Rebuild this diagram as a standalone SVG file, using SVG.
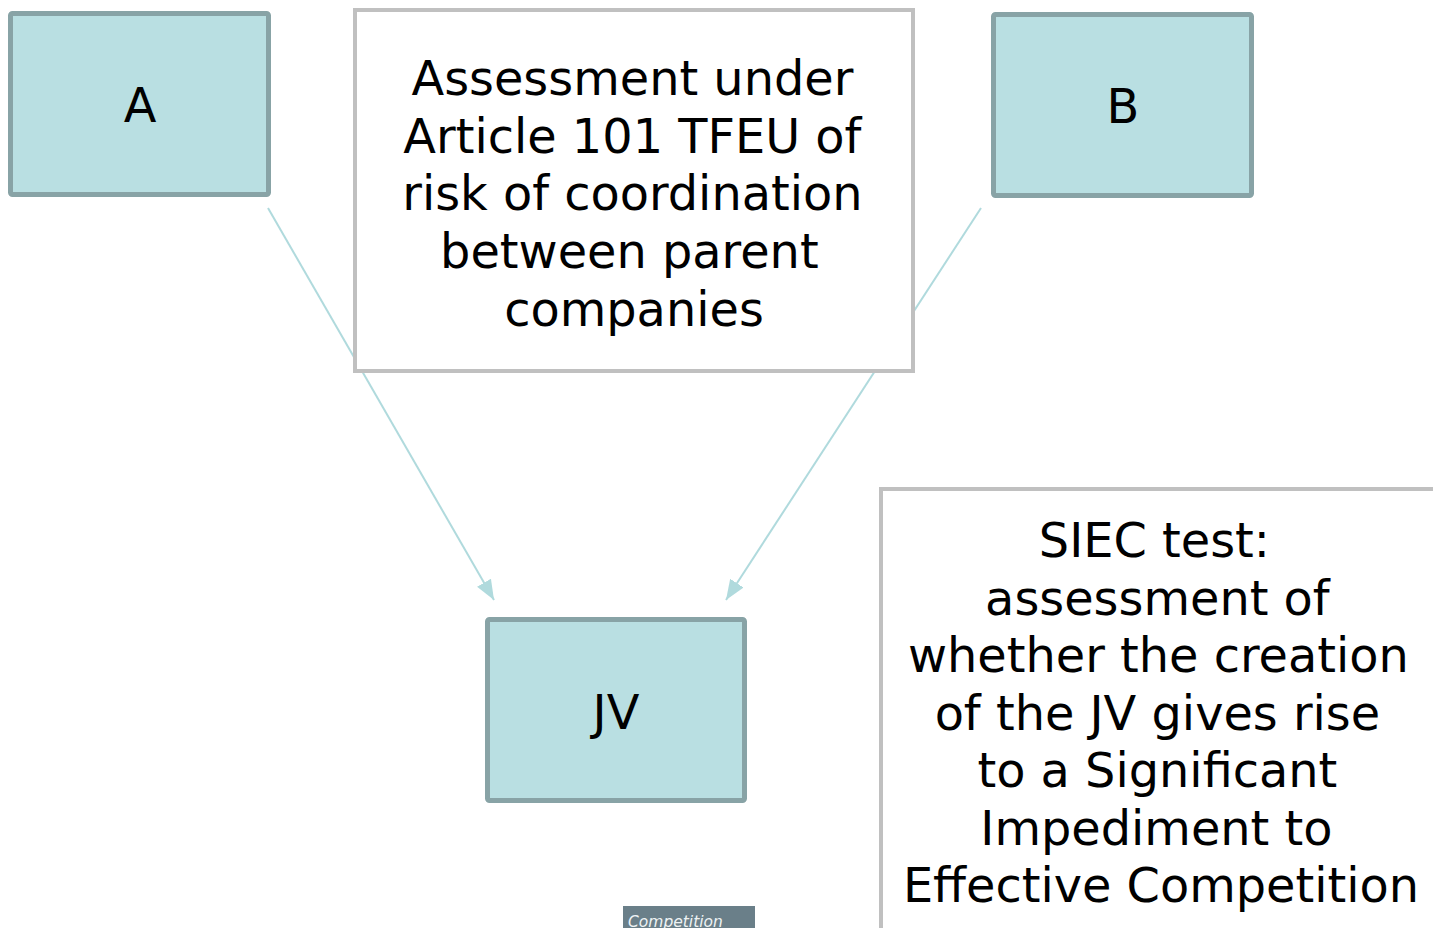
<svg xmlns="http://www.w3.org/2000/svg" width="1433" height="928" viewBox="0 0 1433 928">
  <style>
    .party { fill: #b9dfe2; stroke: #88a3a6; stroke-width: 5; }
    .note { fill: #ffffff; stroke: #c0c0c0; stroke-width: 4; }
    .lbl { font-family: "DejaVu Sans", Verdana, sans-serif; font-size: 47.8px; fill: #000000; text-anchor: middle; }
    .link { stroke: #b0dadd; stroke-width: 2; fill: none; }
    .tag { font-family: "DejaVu Sans", Verdana, sans-serif; font-size: 15.5px; font-style: italic; fill: #eef3f4; }
  </style>
  <defs>
    <marker id="head" viewBox="0 0 20 20" refX="20" refY="10" markerWidth="20" markerHeight="20" markerUnits="userSpaceOnUse" orient="auto">
      <path d="M0,2 L20,10 L0,18 z" fill="#b0dadd"/>
    </marker>
  </defs>

  <!-- connectors from parents to the joint venture -->
  <g id="connectors">
    <line class="link" x1="268" y1="208" x2="494" y2="600" marker-end="url(#head)"/>
    <line class="link" x1="981" y1="208" x2="726" y2="600" marker-end="url(#head)"/>
  </g>

  <g id="node-A">
    <rect class="party" x="10.5" y="13.5" width="258" height="181" rx="2"/>
    <text class="lbl" x="140" y="122">A</text>
  </g>

  <g id="node-B">
    <rect class="party" x="993.5" y="14.5" width="258" height="181" rx="2"/>
    <text class="lbl" x="1123" y="123">B</text>
  </g>

  <g id="node-JV">
    <rect class="party" x="487.5" y="619.5" width="257" height="181" rx="2"/>
    <text class="lbl" x="616" y="729">JV</text>
  </g>

  <g id="node-article101">
    <rect class="note" x="355" y="10" width="558" height="361"/>
    <text class="lbl">
      <tspan x="640" y="95">Assessment under</tspan>
      <tspan x="640" y="153">Article 101 TFEU of</tspan>
      <tspan x="640" y="210">risk of coordination</tspan>
      <tspan x="637" y="268">between parent</tspan>
      <tspan x="634" y="326">companies</tspan>
    </text>
  </g>

  <g id="node-siec">
    <rect class="note" x="881" y="489" width="570" height="460"/>
    <text class="lbl">
      <tspan x="1162" y="557">SIEC test:</tspan>
      <tspan x="1165" y="615">assessment of</tspan>
      <tspan x="1166" y="672">whether the creation</tspan>
      <tspan x="1165" y="730">of the JV gives rise</tspan>
      <tspan x="1165" y="787">to a Significant</tspan>
      <tspan x="1164" y="845">Impediment to</tspan>
      <tspan x="1161" y="902">Effective Competition</tspan>
    </text>
  </g>

  <g id="footer-tag">
    <rect x="623" y="906" width="132" height="24" fill="#6a7f89"/>
    <text class="tag" x="628" y="927">Competition</text>
  </g>
</svg>
